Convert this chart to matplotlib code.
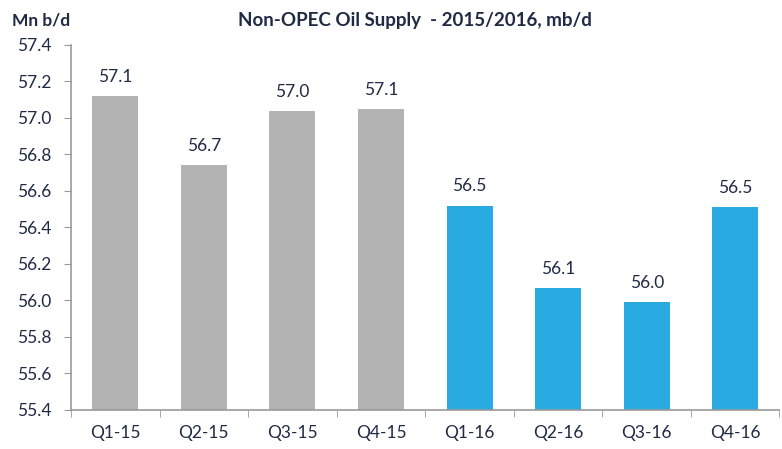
import matplotlib
matplotlib.use('Agg')
import matplotlib.pyplot as plt
import numpy as np

# data
quarters = ['Q1-15', 'Q2-15', 'Q3-15', 'Q4-15', 'Q1-16', 'Q2-16', 'Q3-16', 'Q4-16']
supply = [57.12, 56.74, 57.04, 57.05, 56.52, 56.07, 55.99, 56.51]
labels = ['57.1', '56.7', '57.0', '57.1', '56.5', '56.1', '56.0', '56.5']
bar_colors = ['#b3b3b3'] * 4 + ['#29abe2'] * 4

plt.rcParams['font.family'] = ['Lato', 'DejaVu Sans']
txt = '#1f2a44'
fs = 12.5

fig = plt.figure(figsize=(7.82, 4.49), dpi=100)
ax = fig.add_axes([0.0908, 0.0869, 0.906, 0.813])

x = np.arange(len(quarters))
bars = ax.bar(x, np.array(supply) - 55.4, bottom=55.4, width=0.52, color=bar_colors)
ax.bar_label(bars, labels=labels, padding=8, fontsize=fs, color=txt)

ax.set_ylim(55.4, 57.4)
ax.set_xlim(-0.5, len(quarters) - 0.5)
ax.set_yticks(np.arange(55.4, 57.41, 0.2))
ax.set_yticklabels(['%.1f' % v for v in np.arange(55.4, 57.41, 0.2)], fontsize=fs, color=txt)
ax.set_xticks(x)
ax.set_xticklabels(quarters, fontsize=fs, color=txt)
ax.tick_params(axis='x', which='major', length=0, pad=11)
ax.set_xticks(np.arange(-0.5, len(quarters), 1.0), minor=True)
ax.tick_params(axis='x', which='minor', length=5, color='#999999', direction='out')
ax.tick_params(axis='y', length=5, color='#999999', pad=9)

for s in ['top', 'right']:
    ax.spines[s].set_visible(False)
for s in ['left', 'bottom']:
    ax.spines[s].set_color('#999999')
    ax.spines[s].set_linewidth(1.2)

fig.text(0.53, 0.955, 'Non-OPEC Oil Supply  - 2015/2016, mb/d', ha='center', va='center',
         fontsize=13.5, fontweight='bold', color=txt)
fig.text(0.015, 0.955, 'Mn b/d', ha='left', va='center', fontsize=fs, fontweight='bold', color=txt)

fig.savefig('out.png', dpi=100)
